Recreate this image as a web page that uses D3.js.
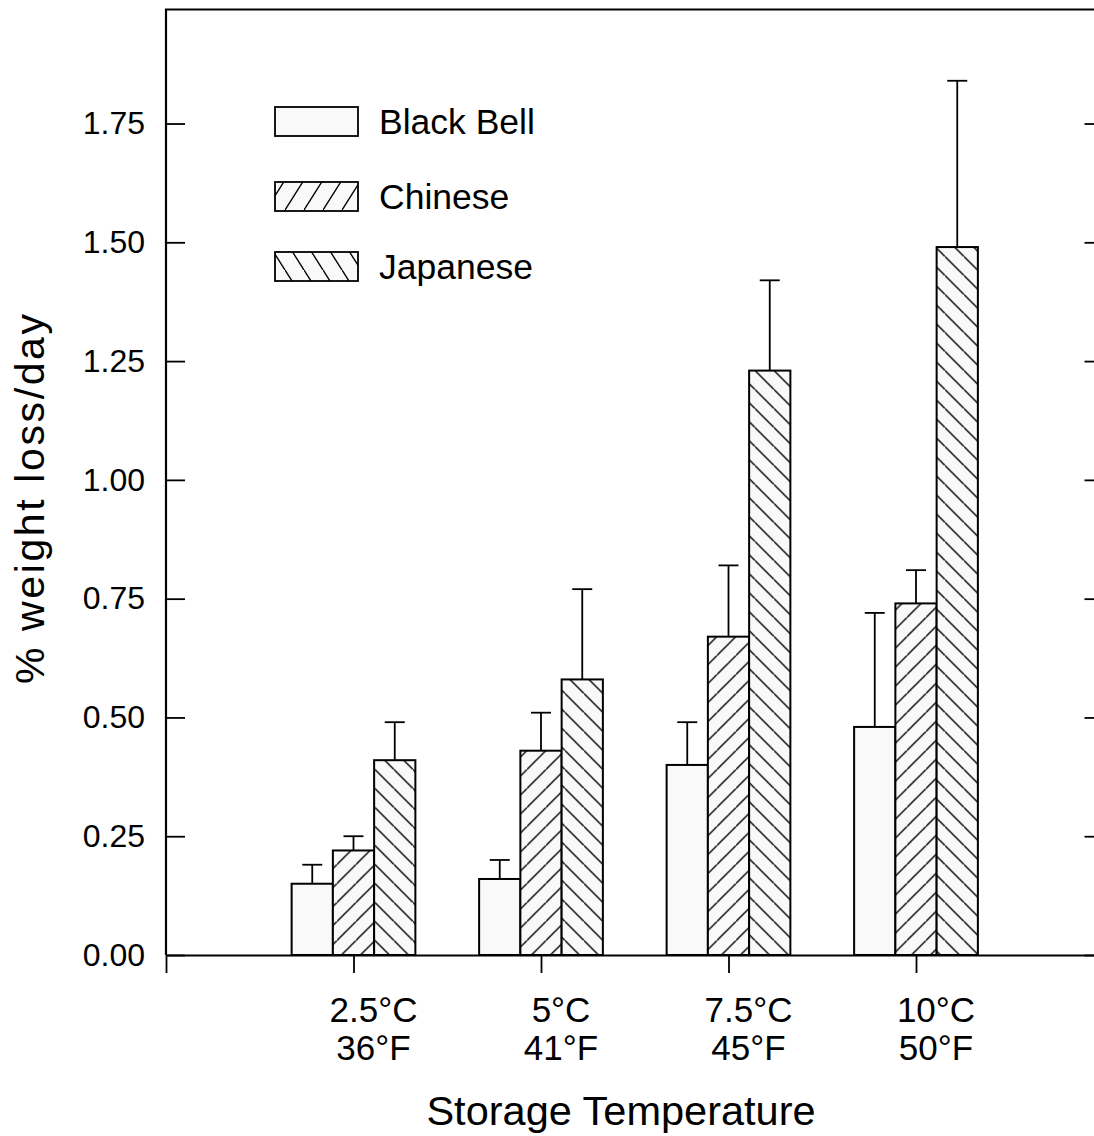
<!DOCTYPE html>
<html>
<head>
<meta charset="utf-8">
<script src="https://cdn.jsdelivr.net/npm/d3@7"></script>
<style>
  body { margin: 0; background: #fff; }
  text { font-family: "Liberation Sans", Arial, sans-serif; fill: #000; }
</style>
</head>
<body>
<div id="fig"></div>
<script>
// chart data
var temps = ["2.5°C", "5°C", "7.5°C", "10°C"];
var tempsF = ["36°F", "41°F", "45°F", "50°F"];
var series = ["Black Bell", "Chinese", "Japanese"];
var blackBell = [0.15, 0.16, 0.40, 0.48];
var blackBellErr = [0.19, 0.20, 0.49, 0.72];
var chinese = [0.22, 0.43, 0.67, 0.74];
var chineseErr = [0.25, 0.51, 0.82, 0.81];
var japanese = [0.41, 0.58, 1.23, 1.49];
var japaneseErr = [0.49, 0.77, 1.42, 1.84];
var yTicks = [0, 0.25, 0.5, 0.75, 1.0, 1.25, 1.5, 1.75];

var W = 1094, H = 1136;
var margin = {top: 9.5, left: 166, bottom: 181, right: -10};
var width = W - margin.left - margin.right,
    height = H - margin.top - margin.bottom;

var svg = d3.select("#fig").append("svg")
  .attr("width", W)
  .attr("height", H);

var defs = svg.append("defs");
var FILL = "#f9f9f9";

// hatch patterns, 45deg in bars, steeper in the legend boxes
function hatch(id, w, h, dir) {
  var p = defs.append("pattern")
    .attr("id", id)
    .attr("patternUnits", "userSpaceOnUse")
    .attr("width", w).attr("height", h);
  p.append("rect").attr("width", w).attr("height", h).attr("fill", FILL);
  var d = dir > 0
    ? `M0,${h} L${w},0 M${-w},${h} L0,0 M${w},${2*h} L${2*w},${h}`
    : `M0,0 L${w},${h} M${-w},0 L0,${h} M${w},${-h} L${2*w},0`;
  p.append("path").attr("d", d)
    .attr("stroke", "#000").attr("stroke-width", 1.4).attr("fill", "none");
}
hatch("fwd", 19, 19, 1);
hatch("bwd", 19, 19, -1);
hatch("fwdL", 19, 30, 1);
hatch("bwdL", 19, 30, -1);

var g = svg.append("g")
  .attr("transform", "translate(" + margin.left + "," + margin.top + ")");

var x = d3.scaleLinear().domain([0, 5]).range([0, 937.5]);
var y = d3.scaleLinear().domain([0, 1.99]).range([height, 0]);

var barW = x(0.22) - x(0);
var groups = [
  {name: series[0], vals: blackBell, err: blackBellErr, fill: FILL, off: -0.22},
  {name: series[1], vals: chinese, err: chineseErr, fill: "url(#fwd)", off: 0},
  {name: series[2], vals: japanese, err: japaneseErr, fill: "url(#bwd)", off: 0.22}
];

// error bars (drawn under the bars)
groups.forEach(function(s) {
  var eg = g.append("g");
  eg.selectAll("line.v").data(s.vals).enter().append("line")
    .attr("x1", function(d, i) { return x(i + 1 + s.off); })
    .attr("x2", function(d, i) { return x(i + 1 + s.off); })
    .attr("y1", function(d) { return y(d); })
    .attr("y2", function(d, i) { return y(s.err[i]); })
    .attr("stroke", "#000").attr("stroke-width", 1.8);
  eg.selectAll("line.c").data(s.err).enter().append("line")
    .attr("x1", function(d, i) { return x(i + 1 + s.off) - 10; })
    .attr("x2", function(d, i) { return x(i + 1 + s.off) + 10; })
    .attr("y1", function(d) { return y(d); })
    .attr("y2", function(d) { return y(d); })
    .attr("stroke", "#000").attr("stroke-width", 1.8);
});

// bars
groups.forEach(function(s) {
  g.append("g").selectAll("rect").data(s.vals).enter().append("rect")
    .attr("x", function(d, i) { return x(i + 1 + s.off) - barW / 2; })
    .attr("y", function(d) { return y(d); })
    .attr("width", barW)
    .attr("height", function(d) { return y(0) - y(d); })
    .attr("fill", s.fill)
    .attr("stroke", "#000")
    .attr("stroke-width", 2);
});

// axes
var yAxis = d3.axisLeft(y).tickValues(yTicks).tickSizeInner(-19).tickSizeOuter(0)
  .tickPadding(21).tickFormat(d3.format(".2f"));
var ya = g.append("g").call(yAxis);
ya.select(".domain").remove();
ya.selectAll("text").style("font-size", "32px");
ya.selectAll("line").attr("stroke-width", 1.8);

var yAxisR = d3.axisRight(y).tickValues(yTicks).tickSizeInner(-19).tickSizeOuter(0)
  .tickFormat("");
var yr = g.append("g").attr("transform", "translate(" + x(5) + ",0)").call(yAxisR);
yr.selectAll("line").attr("stroke-width", 1.8);
yr.select(".domain").attr("stroke-width", 2);

var xAxis = d3.axisBottom(x).tickValues([0, 1, 2, 3, 4]).tickSizeInner(18).tickSizeOuter(0)
  .tickFormat("");
var xa = g.append("g").attr("transform", "translate(0," + height + ")").call(xAxis);
xa.select(".domain").attr("stroke-width", 2.2);
xa.selectAll("line").attr("stroke-width", 1.8);

// frame: left and top
g.append("path")
  .attr("d", `M${x(0)},${y(0)} L${x(0)},${y(1.99)} L${x(5)},${y(1.99)}`)
  .attr("fill", "none").attr("stroke", "#000").attr("stroke-width", 2.2);

// category labels, two lines
var cl = g.append("g");
cl.selectAll("text.c").data(temps).enter().append("text")
  .attr("x", function(d, i) { return x(i + 1) + 20; })
  .attr("y", height + 67)
  .attr("text-anchor", "middle")
  .style("font-size", "35px")
  .text(function(d) { return d; });
cl.selectAll("text.f").data(tempsF).enter().append("text")
  .attr("x", function(d, i) { return x(i + 1) + 20; })
  .attr("y", height + 105)
  .attr("text-anchor", "middle")
  .style("font-size", "35px")
  .text(function(d) { return d; });

// axis titles
svg.append("text")
  .attr("x", 621)
  .attr("y", 1125)
  .attr("text-anchor", "middle")
  .style("font-size", "41.5px")
  .text("Storage Temperature");

svg.append("text")
  .attr("transform", "translate(44,499) rotate(-90)")
  .attr("text-anchor", "middle")
  .attr("textLength", 370)
  .attr("lengthAdjust", "spacing")
  .style("font-size", "41px")
  .text("% weight loss/day");

// legend
var legFill = [FILL, "url(#fwdL)", "url(#bwdL)"];
var legTop = [107, 182, 252];
var leg = svg.append("g");
leg.selectAll("rect").data(series).enter().append("rect")
  .attr("x", 275).attr("y", function(d, i) { return legTop[i]; })
  .attr("width", 83).attr("height", 29)
  .attr("fill", function(d, i) { return legFill[i]; })
  .attr("stroke", "#000").attr("stroke-width", 1.8);
leg.selectAll("text").data(series).enter().append("text")
  .attr("x", 379).attr("y", function(d, i) { return legTop[i] + 27; })
  .style("font-size", "35.5px")
  .text(function(d) { return d; });
</script>
</body>
</html>
